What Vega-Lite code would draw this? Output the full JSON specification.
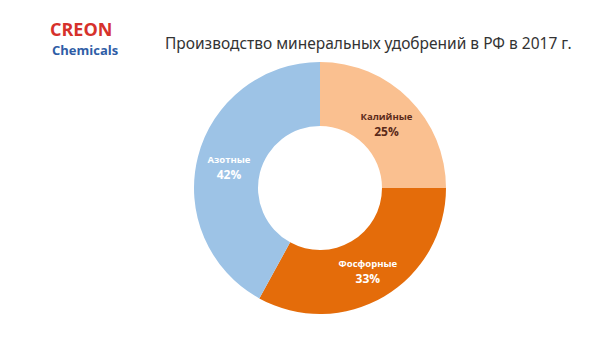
{
  "$schema": "https://vega.github.io/schema/vega-lite/v6.json",
  "width": 568,
  "height": 344,
  "padding": {"left": 36, "top": 16, "right": 0, "bottom": 0},
  "autosize": {"type": "none"},
  "background": "white",
  "config": {"view": {"stroke": null}},
  "title": {
    "text": "Производство минеральных удобрений в РФ в 2017 г.",
    "anchor": "start",
    "frame": "group",
    "dx": 129,
    "dy": 36,
    "offset": 0,
    "fontSize": 15.5,
    "font": "Noto Sans",
    "fontWeight": "normal",
    "color": "#333333"
  },
  "layer": [
    {
      "data": {"values": [
        {"category": "Калийные", "value": 25, "order": 1, "pct": "25%"},
        {"category": "Фосфорные", "value": 33, "order": 2, "pct": "33%"},
        {"category": "Азотные", "value": 42, "order": 3, "pct": "42%"}
      ]},
      "encoding": {
        "theta": {"field": "value", "type": "quantitative", "stack": true},
        "order": {"field": "order", "type": "quantitative"},
        "color": {
          "field": "category",
          "type": "nominal",
          "scale": {"domain": ["Калийные", "Фосфорные", "Азотные"], "range": ["#FAC090", "#E46C0A", "#9DC3E6"]},
          "legend": null
        }
      },
      "layer": [
        {"mark": {"type": "arc", "innerRadius": 62, "outerRadius": 126}},
        {
          "mark": {"type": "text", "radius": 94, "dy": -5, "font": "Open Sans", "fontWeight": "bold", "fontSize": 9.5},
          "encoding": {
            "text": {"field": "category"},
            "color": {"field": "category", "type": "nominal", "scale": {"domain": ["Калийные", "Фосфорные", "Азотные"], "range": ["#5A2A1A", "#FFFFFF", "#FFFFFF"]}, "legend": null}
          }
        },
        {
          "mark": {"type": "text", "radius": 94, "dy": 10, "font": "Open Sans", "fontWeight": "bold", "fontSize": 12},
          "encoding": {
            "text": {"field": "pct"},
            "color": {"field": "category", "type": "nominal", "scale": {"domain": ["Калийные", "Фосфорные", "Азотные"], "range": ["#5A2A1A", "#FFFFFF", "#FFFFFF"]}, "legend": null}
          }
        }
      ],
      "resolve": {"scale": {"color": "independent"}}
    },
    {
      "data": {"values": [{"brand": "CREON"}]},
      "mark": {"type": "text", "x": 14, "y": 20, "align": "left", "baseline": "alphabetic", "font": "Open Sans", "fontWeight": "bold", "fontSize": 18, "color": "#D6312B"},
      "encoding": {"text": {"field": "brand"}}
    },
    {
      "data": {"values": [{"brand": "Chemicals"}]},
      "mark": {"type": "text", "x": 16, "y": 39, "align": "left", "baseline": "alphabetic", "font": "Open Sans", "fontWeight": "bold", "fontSize": 13, "color": "#2F5DA6"},
      "encoding": {"text": {"field": "brand"}}
    }
  ]
}
